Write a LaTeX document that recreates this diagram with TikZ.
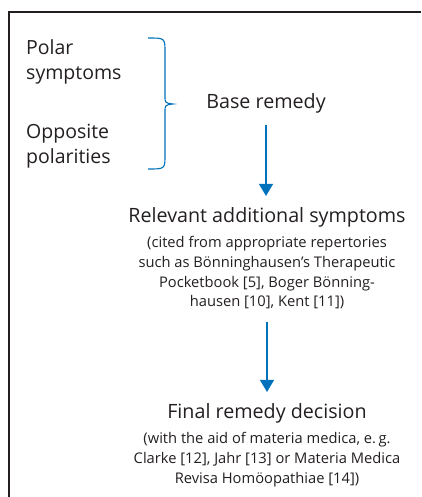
\documentclass[tikz,border=0pt]{standalone}
\usepackage{fontspec}
\setmainfont{Open Sans}
\usetikzlibrary{arrows.meta,positioning}
\definecolor{FlowBlue}{HTML}{0072BC}
\definecolor{InkGray}{HTML}{231F20}
\tikzset{
  side node/.style={anchor=west,align=left,text=InkGray,inner sep=0pt,
    font=\fontsize{19.5}{25}\selectfont},
  head node/.style={align=center,text=InkGray,inner sep=0pt,
    font=\fontsize{19.7}{24}\selectfont},
  note node/.style={align=center,text=InkGray,inner sep=0pt,
    font=\fontsize{14.7}{19.8}\selectfont},
  flow arrow/.style={-{Triangle[length=12pt,width=14pt]},draw=FlowBlue,line width=1.2pt}
}
\begin{document}
\begin{tikzpicture}[x=1pt,y=-1pt]
  \useasboundingbox (0,0) rectangle (421,497);
  \draw[line width=2pt,draw=InkGray] (9,497) -- (9,12) -- (421,12);
  \node[side node] (polar) at (26,62) {Polar\\symptoms};
  \node[side node] (oppo) at (26,146) {Opposite\\polarities};
  % brace joining the two groups
  \coordinate (bracetop) at (148,38);
  \coordinate (bracetip) at (173,104);
  \coordinate (bracebot) at (148,169);
  \draw[draw=FlowBlue,line width=1.1pt]
    (bracetop) .. controls (165,38) .. (165,52) -- (165,96)
    .. controls (165,103) .. (bracetip)
    .. controls (165,105) .. (165,112) -- (165,155)
    .. controls (165,169) .. (bracebot);
  \node[head node] (base) at (266,103) {Base remedy};
  \node[head node] (rel) at (267,217) {Relevant additional symptoms};
  \node[note node,below=9pt of rel] (relnote) {(cited from appropriate repertories\\
    such as Bönninghausen’s Therapeutic\\Pocketbook [5], Boger Bönning-\\hausen [10], Kent [11])};
  \node[head node] (final) at (267,413) {Final remedy decision};
  \node[note node,below=9pt of final] (finalnote) {(with the aid of materia medica, e.\,g.\\
    Clarke [12], Jahr [13] or Materia Medica\\Revisa Homöopathiae [14])};
  \draw[flow arrow,shorten <=12pt,shorten >=11pt] (base) -- (base |- rel.north);
  \draw[flow arrow,shorten <=13pt,shorten >=11pt] (relnote) -- (relnote |- final.north);
\end{tikzpicture}
\end{document}
